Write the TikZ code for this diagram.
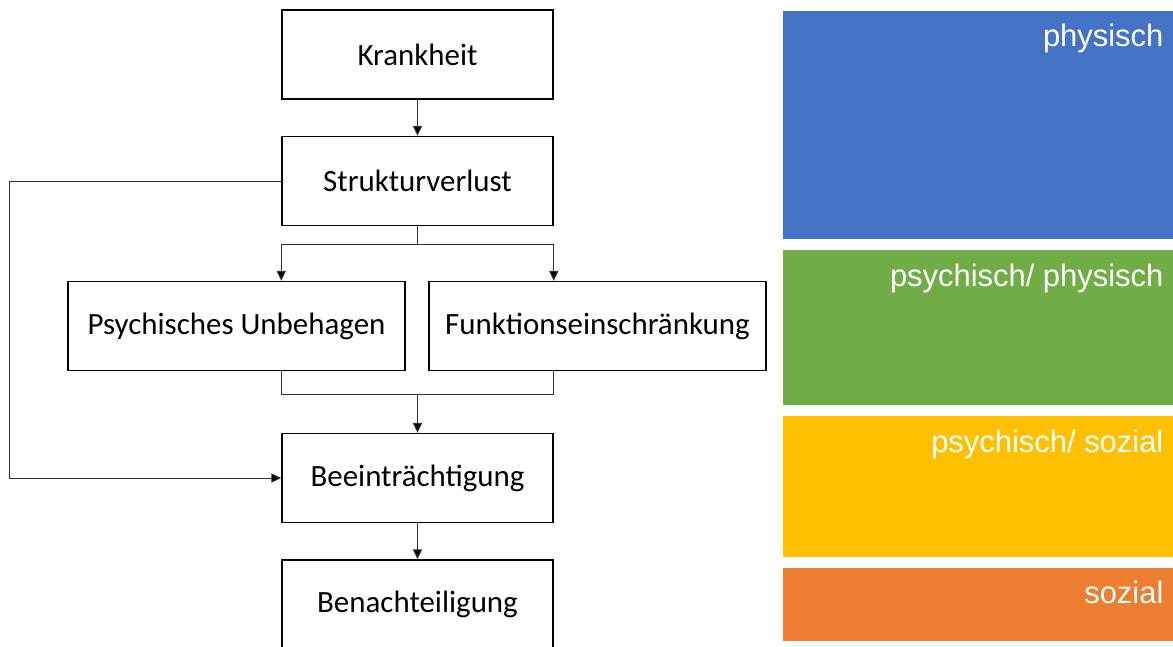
\documentclass[tikz,border=0pt]{standalone}
\usepackage{fontspec}
\setmainfont{Carlito}
\newfontfamily\labelfont{Liberation Sans}
\usetikzlibrary{positioning, arrows.meta, calc}
\definecolor{barblue}{HTML}{4472C4}
\definecolor{bargreen}{HTML}{70AD47}
\definecolor{baryellow}{HTML}{FFC000}
\definecolor{barorange}{HTML}{ED7D31}
\definecolor{linegray}{HTML}{333333}

\begin{document}
\begin{tikzpicture}[x=0.025cm, y=-0.025cm,
	box/.style = {rectangle, draw = black, line width = 1pt, minimum width = 6.775cm,
		minimum height = 2.225cm, font = \fontsize{22}{26}\selectfont},
	widebox/.style = {box, minimum width = 8.425cm},
	link/.style = {draw = linegray, line width = 0.7pt},
	arr/.style = {link, -{Triangle[length=0.25cm, width=0.23cm, fill=black]}},
	bar/.style = {rectangle, inner sep = 0pt, anchor = north west, minimum width = 9.75cm},
	barlabel/.style = {text = white, anchor = base east, inner sep = 0pt,
		font = \labelfont\fontsize{22}{26}\selectfont}]
	\clip (0,0) rectangle (1173,646);
	
	% Boxes
	\node[box] (krank) at (417.5,54.5) {Krankheit};
	\node[box] (struk) at ($(krank) + (0,126.5)$) {Strukturverlust};
	\node[widebox] (psych) at ($(krank) + (-181,271.5)$) {Psychisches Unbehagen};
	\node[widebox] (funkt) at ($(krank) + (180,271.5)$) {Funktionseinschränkung};
	\node[box] (beein) at ($(krank) + (0,423.5)$) {Beeinträchtigung};
	\node[box] (benach) at ($(krank) + (0,550)$) {Benachteiligung};
	
	% Connections
	\draw[arr] (krank) -- (struk);
	\draw[arr] (struk.south) -- ++(0,18) -| (psych.north -| struk.west);
	\draw[arr] (struk.south) -- ++(0,18) -| (funkt.north -| struk.east);
	
	\coordinate (merge) at ($(beein.north) + (0,-38)$);
	\draw[link] (psych.south -| struk.west) |- (merge) -| (funkt.south -| struk.east);
	\draw[arr] (merge) -- (beein);
	
	\draw[arr] (struk.west) -- ++(-272,0) |- (beein.west);
	\draw[arr] (beein) -- (benach);
	
	% Bars
	\node[bar, fill = barblue, minimum height = 5.7cm] (physisch) at (783,11) {};
	\node[bar, fill = bargreen, minimum height = 3.875cm] (psyphy) at (783,250) {};
	\node[bar, fill = baryellow, minimum height = 3.525cm] (psysoz) at (783,416) {};
	\node[bar, fill = barorange, minimum height = 1.825cm] (sozial) at (783,568) {};
	
	\node[barlabel] (physischlbl) at ($(physisch.north east) + (-10,35)$) {physisch};
	\node[barlabel] (psyphylbl) at ($(psyphy.north east) + (-10,36)$) {psychisch/ physisch};
	\node[barlabel] (psysozlbl) at ($(psysoz.north east) + (-10,36)$) {psychisch/ sozial};
	\node[barlabel] (soziallbl) at ($(sozial.north east) + (-10,35)$) {sozial};
\end{tikzpicture}
\end{document}
